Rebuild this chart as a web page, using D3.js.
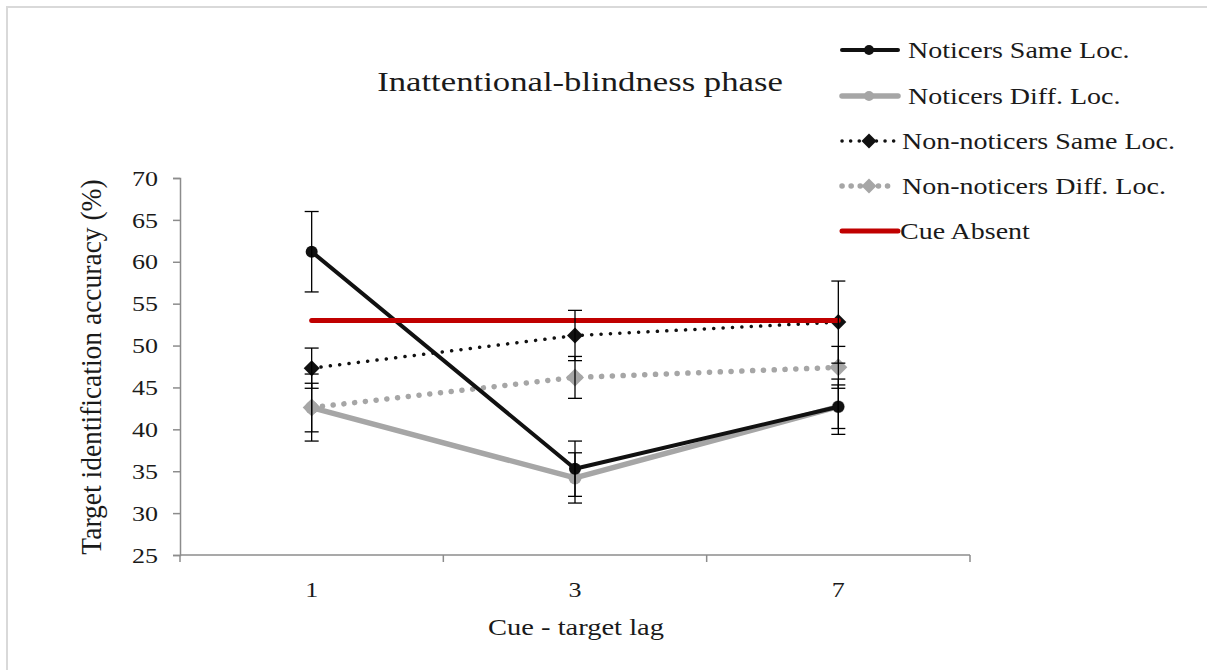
<!DOCTYPE html>
<html>
<head>
<meta charset="utf-8">
<script src="https://cdn.jsdelivr.net/npm/d3@7"></script>
<style>
  body { margin: 0; background: #fff; overflow: hidden; }
  svg { display: block; }
  svg text { font-family: "Liberation Serif", "DejaVu Serif", serif; fill: #1a1a1a; }
</style>
</head>
<body>
<script>
const lags = ["1", "3", "7"]
const yTicks = [25, 30, 35, 40, 45, 50, 55, 60, 65, 70]

// means and error (+/-)
const noticersSame = [61.2, 35.3, 42.7]
const noticersSameErr = [4.8, 3.3, 3.3]
const noticersDiff = [42.6, 34.2, 42.7]
const noticersDiffErr = [4.0, 3.0, 2.6]
const nonNoticersSame = [47.3, 51.2, 52.8]
const nonNoticersSameErr = [2.4, 3.0, 4.9]
const nonNoticersDiff = [42.6, 46.2, 47.4]
const nonNoticersDiffErr = [2.9, 2.5, 2.5]
const cueAbsent = [53, 53, 53]

const W = 1207, H = 670
const margin = {left: 180, right: 237, top: 178, bottom: 115}
const FONT = "Liberation Serif, DejaVu Serif, serif"
const SX = 1.24   // the original picture is stretched sideways, text looks wide

const svg = d3.select("body").append("svg")
    .attr("width", W)
    .attr("height", H)
    .attr("font-family", FONT)

// outer frame, only top and left edge show
svg.append("path")
    .attr("d", "M7," + H + "V7H" + W)
    .attr("fill", "none")
    .attr("stroke", "#d9d9d9")
    .attr("stroke-width", 2)

const x = d3.scaleBand().domain(lags).range([margin.left, W - margin.right])
const y = d3.scaleLinear().domain([25, 70]).range([H - margin.bottom, margin.top])
const cx = d => x(d) + x.bandwidth() / 2

// wide text helper
function wideText(g, tx, ty, str, size, anchor) {
  return g.append("text")
      .attr("transform", "translate(" + tx + "," + ty + ") scale(" + SX + ",1)")
      .attr("text-anchor", anchor || "start")
      .attr("font-size", size)
      .text(str)
}

// y axis
const yAxis = svg.append("g")
    .attr("transform", "translate(" + margin.left + ",0)")
    .call(d3.axisLeft(y).tickValues(yTicks).tickSize(7))
yAxis.attr("font-family", FONT)
yAxis.select(".domain").attr("stroke", "#8c8c8c").attr("stroke-width", 1.5)
yAxis.selectAll(".tick line").attr("stroke", "#8c8c8c").attr("stroke-width", 1.5)
yAxis.selectAll(".tick text")
    .attr("x", 0)
    .attr("dy", "0.34em")
    .attr("transform", "translate(-22,0) scale(" + SX + ",1)")
    .attr("font-size", 21)
    .attr("fill", "#1a1a1a")

// x axis: ticks between categories like Excel
const xAxisG = svg.append("g")
    .attr("transform", "translate(0," + (H - margin.bottom) + ")")
xAxisG.append("line")
    .attr("x1", margin.left).attr("x2", W - margin.right)
    .attr("stroke", "#8c8c8c").attr("stroke-width", 1.5)
const bounds = lags.map(d => x(d)).concat([W - margin.right])
xAxisG.selectAll("line.tk").data(bounds).enter().append("line")
    .attr("class", "tk")
    .attr("x1", d => d).attr("x2", d => d)
    .attr("y1", 0).attr("y2", 7)
    .attr("stroke", "#8c8c8c").attr("stroke-width", 1.5)
lags.forEach(d => wideText(xAxisG, cx(d), 42, d, 21, "middle"))

// titles
wideText(svg, 580, 91, "Inattentional-blindness phase", 28, "middle")
wideText(svg, 576, 635, "Cue - target lag", 23, "middle")

svg.append("text")
    .attr("transform", "translate(101,367) scale(1.08,1) rotate(-90)")
    .attr("text-anchor", "middle")
    .attr("font-size", 27.5)
    .text("Target identification accuracy (%)")

const series = [
  {name: "Noticers Same Loc.", vals: noticersSame, err: noticersSameErr, color: "#111", width: 4, dash: null, marker: "circle", size: 6},
  {name: "Noticers Diff. Loc.", vals: noticersDiff, err: noticersDiffErr, color: "#a6a6a6", width: 5.5, dash: null, marker: "circle", size: 6.5},
  {name: "Non-noticers Same Loc.", vals: nonNoticersSame, err: nonNoticersSameErr, color: "#111", width: 3.5, dash: "0.1 9.3", marker: "diamond", size: 8},
  {name: "Non-noticers Diff. Loc.", vals: nonNoticersDiff, err: nonNoticersDiffErr, color: "#a6a6a6", width: 5.5, dash: "0.1 10.7", marker: "diamond", size: 9},
  {name: "Cue Absent", vals: cueAbsent, err: null, color: "#c00000", width: 5, dash: null, marker: null}
]

const line = d3.line().x((d, i) => cx(lags[i])).y(d => y(d))

function drawMarker(g, s, px, py) {
  if (s.marker === "circle") {
    g.append("circle").attr("cx", px).attr("cy", py).attr("r", s.size).attr("fill", s.color)
  } else if (s.marker === "diamond") {
    const r = s.size
    g.append("path")
        .attr("d", "M" + px + "," + (py - r) + "L" + (px + r) + "," + py + "L" + px + "," + (py + r) + "L" + (px - r) + "," + py + "Z")
        .attr("fill", s.color)
  }
}

// draw in reverse order so the first series ends up on top
const order = [3, 2, 1, 0, 4]
order.forEach(k => {
  const s = series[k]
  const g = svg.append("g")
  g.append("path")
      .datum(s.vals)
      .attr("d", line)
      .attr("fill", "none")
      .attr("stroke", s.color)
      .attr("stroke-width", s.width)
      .attr("stroke-linecap", "round")
      .attr("stroke-linejoin", "round")
      .attr("stroke-dasharray", s.dash)
  s.vals.forEach((v, i) => drawMarker(g, s, cx(lags[i]), y(v)))
})

// error bars on top
series.forEach(s => {
  if (!s.err) return
  const g = svg.append("g")
  s.vals.forEach((v, i) => {
    const px = cx(lags[i])
    const hi = y(v + s.err[i]), lo = y(v - s.err[i])
    g.append("line").attr("x1", px).attr("x2", px).attr("y1", hi).attr("y2", lo)
        .attr("stroke", "#000").attr("stroke-width", 1.3)
    ;[hi, lo].forEach(yy => {
      g.append("line").attr("x1", px - 7).attr("x2", px + 7).attr("y1", yy).attr("y2", yy)
          .attr("stroke", "#000").attr("stroke-width", 1.3)
    })
  })
})

// legend
const legendY = [50, 96, 141, 186, 231]
const legendTextX = [908, 908, 902, 902, 900]
const legend = svg.append("g")
series.forEach((s, i) => {
  const ly = legendY[i]
  const g = legend.append("g")
  const x2 = s.marker === "diamond" ? 895 : 898
  g.append("line")
      .attr("x1", 842).attr("x2", x2)
      .attr("y1", ly).attr("y2", ly)
      .attr("stroke", s.color)
      .attr("stroke-width", s.width)
      .attr("stroke-linecap", "round")
      .attr("stroke-dasharray", s.dash ? (s.color === "#111" ? "0.1 8.5" : "0.1 9") : null)
  if (s.marker) drawMarker(g, {marker: s.marker, color: s.color, size: s.marker === "circle" ? 5 : 7.5}, 869, ly)
  wideText(g, legendTextX[i], ly + 8, s.name, 22.6)
})
</script>
</body>
</html>
